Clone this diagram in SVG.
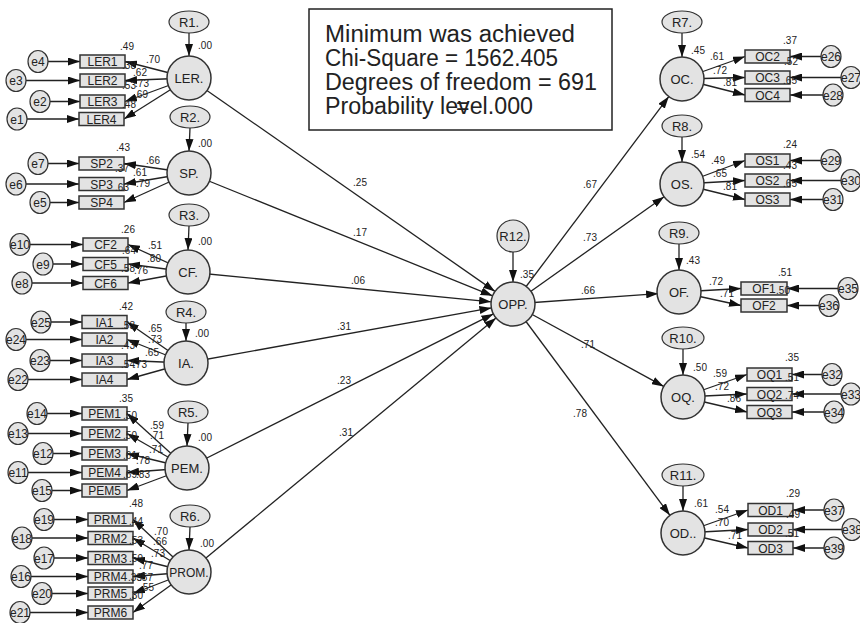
<svg xmlns="http://www.w3.org/2000/svg" width="860" height="623" viewBox="0 0 860 623">
<defs>
<marker id="ah" markerUnits="userSpaceOnUse" markerWidth="12" markerHeight="8" refX="12" refY="4" orient="auto"><path d="M0,0 L12,4 L0,8 z" fill="#111"/></marker>
</defs>
<style>
.c line{stroke:#222;stroke-width:1.3;marker-end:url(#ah)}
.lat{fill:#e3e3e3;stroke:#333;stroke-width:1.5}
.box{fill:#e3e3e3;stroke:#333;stroke-width:1.5}
.err{fill:#e3e3e3;stroke:#333;stroke-width:1.2}
text{font-family:"Liberation Sans",Arial,sans-serif;fill:#222}
.lt{font-size:13px;text-anchor:middle}
.bt{font-size:12px;text-anchor:middle}
.et{font-size:12px;text-anchor:middle}
.n{font-size:10px;text-anchor:middle}
.info{font-size:23px}
</style>
<rect x="309" y="9" width="303" height="121" fill="#fff" stroke="#222" stroke-width="1.5"/>
<g id="info">
<text class="info" x="325" y="42" textLength="250" lengthAdjust="spacingAndGlyphs">Minimum was achieved</text>
<text class="info" x="325" y="66" textLength="233" lengthAdjust="spacingAndGlyphs">Chi-Square = 1562.405</text>
<text class="info" x="325" y="90" textLength="272" lengthAdjust="spacingAndGlyphs">Degrees of freedom = 691</text>
<text class="info" x="325" y="114" textLength="208" lengthAdjust="spacingAndGlyphs">Probability level.000</text>
<text class="info" x="456" y="114">=</text>
</g>
<g class="c" id="connectors">
<!-- R to latent -->
<line x1="189" y1="33" x2="189" y2="56"/>
<line x1="190" y1="128" x2="189" y2="151"/>
<line x1="189" y1="226" x2="188" y2="250"/>
<line x1="186" y1="323" x2="186" y2="341"/>
<line x1="188" y1="423" x2="187" y2="446"/>
<line x1="190" y1="527" x2="189" y2="550"/>
<line x1="682" y1="33" x2="682" y2="57"/>
<line x1="682" y1="137" x2="682" y2="162"/>
<line x1="679" y1="244" x2="679" y2="270"/>
<line x1="683" y1="349" x2="683" y2="375"/>
<line x1="683" y1="486" x2="683" y2="511"/>
<line x1="513" y1="252" x2="513" y2="282"/>
<!-- latent to OPP -->
<line x1="189" y1="78" x2="495" y2="291.4"/>
<line x1="189" y1="173" x2="492.6" y2="295.8"/>
<line x1="188" y1="272" x2="491.1" y2="301.8"/>
<line x1="186" y1="363" x2="491.4" y2="307.9"/>
<line x1="187" y1="468" x2="493.4" y2="313.9"/>
<line x1="189" y1="572" x2="496" y2="318"/>
<!-- OPP to right latents -->
<line x1="513" y1="304" x2="668.8" y2="96.6"/>
<line x1="513" y1="304" x2="664.1" y2="196.7"/>
<line x1="513" y1="304" x2="658.1" y2="293.6"/>
<line x1="513" y1="304" x2="663.7" y2="386.4"/>
<line x1="513" y1="304" x2="669.9" y2="515.3"/>
<!-- left latent to indicators -->
<line x1="189" y1="78" x2="125" y2="61.5"/>
<line x1="189" y1="78" x2="125" y2="80.5"/>
<line x1="189" y1="78" x2="125" y2="101.5"/>
<line x1="189" y1="78" x2="124" y2="119"/>
<line x1="189" y1="173" x2="124" y2="163.5"/>
<line x1="189" y1="173" x2="124" y2="184"/>
<line x1="189" y1="173" x2="124" y2="202.5"/>
<line x1="188" y1="272" x2="128" y2="244.5"/>
<line x1="188" y1="272" x2="128" y2="264"/>
<line x1="188" y1="272" x2="128" y2="283"/>
<line x1="186" y1="363" x2="127" y2="322"/>
<line x1="186" y1="363" x2="127" y2="339.5"/>
<line x1="186" y1="363" x2="127" y2="360.5"/>
<line x1="186" y1="363" x2="127" y2="379.5"/>
<line x1="187" y1="468" x2="127" y2="413.5"/>
<line x1="187" y1="468" x2="127" y2="433.5"/>
<line x1="187" y1="468" x2="127" y2="453.5"/>
<line x1="187" y1="468" x2="127" y2="472.5"/>
<line x1="187" y1="468" x2="127" y2="490.5"/>
<line x1="189" y1="572" x2="133" y2="519.5"/>
<line x1="189" y1="572" x2="133" y2="538"/>
<line x1="189" y1="572" x2="133" y2="558"/>
<line x1="189" y1="572" x2="133" y2="576.5"/>
<line x1="189" y1="572" x2="133" y2="593.5"/>
<line x1="189" y1="572" x2="133" y2="612.5"/>
<!-- right latent to indicators -->
<line x1="682" y1="79" x2="745" y2="56.5"/>
<line x1="682" y1="79" x2="745" y2="77.5"/>
<line x1="682" y1="79" x2="745" y2="95"/>
<line x1="682" y1="184" x2="745" y2="160.5"/>
<line x1="682" y1="184" x2="745" y2="180.5"/>
<line x1="682" y1="184" x2="745" y2="199.5"/>
<line x1="679" y1="292" x2="741" y2="288.5"/>
<line x1="679" y1="292" x2="741" y2="305.5"/>
<line x1="683" y1="397" x2="747" y2="374.5"/>
<line x1="683" y1="397" x2="747" y2="394"/>
<line x1="683" y1="397" x2="747" y2="412"/>
<line x1="683" y1="533" x2="748" y2="510"/>
<line x1="683" y1="533" x2="748" y2="529.5"/>
<line x1="683" y1="533" x2="748" y2="548"/>
<!-- left errors -->
<line x1="38" y1="61.5" x2="80" y2="61.5"/>
<line x1="16" y1="80.5" x2="80" y2="80.5"/>
<line x1="40" y1="101.5" x2="80" y2="101.5"/>
<line x1="17" y1="119" x2="79" y2="119"/>
<line x1="38" y1="163.5" x2="79" y2="163.5"/>
<line x1="16" y1="184" x2="79" y2="184"/>
<line x1="40" y1="202.5" x2="79" y2="202.5"/>
<line x1="20" y1="244.5" x2="83" y2="244.5"/>
<line x1="43" y1="264" x2="83" y2="264"/>
<line x1="22" y1="283" x2="83" y2="283"/>
<line x1="41" y1="322" x2="82" y2="322"/>
<line x1="16" y1="339.5" x2="82" y2="339.5"/>
<line x1="40" y1="360.5" x2="82" y2="360.5"/>
<line x1="18" y1="379.5" x2="82" y2="379.5"/>
<line x1="37" y1="413.5" x2="82" y2="413.5"/>
<line x1="18" y1="433.5" x2="82" y2="433.5"/>
<line x1="43" y1="453.5" x2="82" y2="453.5"/>
<line x1="18" y1="472.5" x2="82" y2="472.5"/>
<line x1="42" y1="490.5" x2="82" y2="490.5"/>
<line x1="44" y1="519.5" x2="88" y2="519.5"/>
<line x1="22" y1="538" x2="88" y2="538"/>
<line x1="44" y1="558" x2="88" y2="558"/>
<line x1="21" y1="576.5" x2="88" y2="576.5"/>
<line x1="42" y1="593.5" x2="88" y2="593.5"/>
<line x1="20" y1="612.5" x2="88" y2="612.5"/>
<!-- right errors -->
<line x1="831" y1="56.5" x2="790" y2="56.5"/>
<line x1="851" y1="77.5" x2="790" y2="77.5"/>
<line x1="833" y1="95" x2="790" y2="95"/>
<line x1="831" y1="160.5" x2="790" y2="160.5"/>
<line x1="851" y1="180.5" x2="790" y2="180.5"/>
<line x1="833" y1="199.5" x2="790" y2="199.5"/>
<line x1="848" y1="288.5" x2="787" y2="288.5"/>
<line x1="829" y1="305.5" x2="787" y2="305.5"/>
<line x1="832" y1="374.5" x2="792" y2="374.5"/>
<line x1="851" y1="394" x2="792" y2="394"/>
<line x1="834" y1="412" x2="792" y2="412"/>
<line x1="834" y1="510" x2="793" y2="510"/>
<line x1="852" y1="529.5" x2="793" y2="529.5"/>
<line x1="834" y1="548" x2="793" y2="548"/>
</g>
<!-- latent nodes -->
<g id="LER"><circle class="lat" cx="189" cy="78" r="22"/><text class="lt" x="189" y="83">LER.</text></g>
<g id="SP"><circle class="lat" cx="189" cy="173" r="22"/><text class="lt" x="189" y="178">SP.</text></g>
<g id="CF"><circle class="lat" cx="188" cy="272" r="22"/><text class="lt" x="188" y="277">CF.</text></g>
<g id="IA"><circle class="lat" cx="186" cy="363" r="22"/><text class="lt" x="186" y="368">IA.</text></g>
<g id="PEM"><circle class="lat" cx="187" cy="468" r="22"/><text class="lt" x="187" y="473">PEM.</text></g>
<g id="PROM"><circle class="lat" cx="189" cy="572" r="22"/><text class="lt" x="189" y="577" style="font-size:12px">PROM.</text></g>
<g id="OPP"><circle class="lat" cx="513" cy="304" r="22"/><text class="lt" x="513" y="309">OPP.</text></g>
<g id="OC"><circle class="lat" cx="682" cy="79" r="22"/><text class="lt" x="682" y="84">OC.</text></g>
<g id="OS"><circle class="lat" cx="682" cy="184" r="22"/><text class="lt" x="682" y="189">OS.</text></g>
<g id="OF"><circle class="lat" cx="679" cy="292" r="22"/><text class="lt" x="679" y="297">OF.</text></g>
<g id="OQ"><circle class="lat" cx="683" cy="397" r="22"/><text class="lt" x="683" y="402">OQ.</text></g>
<g id="OD"><circle class="lat" cx="683" cy="533" r="22"/><text class="lt" x="683" y="538">OD..</text></g>
<!-- residual nodes -->
<g id="R1"><ellipse class="err" cx="189" cy="22" rx="20" ry="11"/><text class="lt" x="189" y="27">R1.</text></g>
<g id="R2"><ellipse class="err" cx="190" cy="117" rx="20" ry="11"/><text class="lt" x="190" y="122">R2.</text></g>
<g id="R3"><ellipse class="err" cx="189" cy="215" rx="20" ry="11"/><text class="lt" x="189" y="220">R3.</text></g>
<g id="R4"><ellipse class="err" cx="186" cy="312" rx="20" ry="11"/><text class="lt" x="186" y="317">R4.</text></g>
<g id="R5"><ellipse class="err" cx="188" cy="412" rx="20" ry="11"/><text class="lt" x="188" y="417">R5.</text></g>
<g id="R6"><ellipse class="err" cx="190" cy="516" rx="20" ry="11"/><text class="lt" x="190" y="521">R6.</text></g>
<g id="R7"><ellipse class="err" cx="682" cy="22" rx="20" ry="11"/><text class="lt" x="682" y="27">R7.</text></g>
<g id="R8"><ellipse class="err" cx="682" cy="126" rx="20" ry="11"/><text class="lt" x="682" y="131">R8.</text></g>
<g id="R9"><ellipse class="err" cx="679" cy="233" rx="20" ry="11"/><text class="lt" x="679" y="238">R9.</text></g>
<g id="R10"><ellipse class="err" cx="683" cy="338" rx="21" ry="11"/><text class="lt" x="683" y="343">R10.</text></g>
<g id="R11"><ellipse class="err" cx="683" cy="475" rx="21" ry="11"/><text class="lt" x="683" y="480">R11.</text></g>
<g id="R12"><circle class="err" cx="513" cy="236" r="16"/><text class="lt" x="513" y="241">R12.</text></g>
<!-- indicator boxes left -->
<g id="LER1"><rect class="box" x="80" y="55" width="45" height="13"/><text class="bt" x="102.5" y="66">LER1</text></g>
<g id="LER2"><rect class="box" x="80" y="74" width="45" height="13"/><text class="bt" x="102.5" y="85">LER2</text></g>
<g id="LER3"><rect class="box" x="80" y="95" width="45" height="13"/><text class="bt" x="102.5" y="106">LER3</text></g>
<g id="LER4"><rect class="box" x="79" y="112.5" width="45" height="13"/><text class="bt" x="101.5" y="123.5">LER4</text></g>
<g id="SP2"><rect class="box" x="79" y="157" width="45" height="13"/><text class="bt" x="101.5" y="168">SP2</text></g>
<g id="SP3"><rect class="box" x="79" y="177.5" width="45" height="13"/><text class="bt" x="101.5" y="188.5">SP3</text></g>
<g id="SP4"><rect class="box" x="79" y="196" width="45" height="13"/><text class="bt" x="101.5" y="207">SP4</text></g>
<g id="CF2"><rect class="box" x="83" y="238" width="45" height="13"/><text class="bt" x="105.5" y="249">CF2</text></g>
<g id="CF5"><rect class="box" x="83" y="257.5" width="45" height="13"/><text class="bt" x="105.5" y="268.5">CF5</text></g>
<g id="CF6"><rect class="box" x="83" y="276.5" width="45" height="13"/><text class="bt" x="105.5" y="287.5">CF6</text></g>
<g id="IA1"><rect class="box" x="82" y="315.5" width="45" height="13"/><text class="bt" x="104.5" y="326.5">IA1</text></g>
<g id="IA2"><rect class="box" x="82" y="333" width="45" height="13"/><text class="bt" x="104.5" y="344">IA2</text></g>
<g id="IA3"><rect class="box" x="82" y="354" width="45" height="13"/><text class="bt" x="104.5" y="365">IA3</text></g>
<g id="IA4"><rect class="box" x="82" y="373" width="45" height="13"/><text class="bt" x="104.5" y="384">IA4</text></g>
<g id="PEM1"><rect class="box" x="82" y="407" width="45" height="13"/><text class="bt" x="104.5" y="418">PEM1</text></g>
<g id="PEM2"><rect class="box" x="82" y="427" width="45" height="13"/><text class="bt" x="104.5" y="438">PEM2</text></g>
<g id="PEM3"><rect class="box" x="82" y="447" width="45" height="13"/><text class="bt" x="104.5" y="458">PEM3</text></g>
<g id="PEM4"><rect class="box" x="82" y="466" width="45" height="13"/><text class="bt" x="104.5" y="477">PEM4</text></g>
<g id="PEM5"><rect class="box" x="82" y="484" width="45" height="13"/><text class="bt" x="104.5" y="495">PEM5</text></g>
<g id="PRM1"><rect class="box" x="88" y="513" width="45" height="13"/><text class="bt" x="110.5" y="524">PRM1</text></g>
<g id="PRM2"><rect class="box" x="88" y="531.5" width="45" height="13"/><text class="bt" x="110.5" y="542.5">PRM2</text></g>
<g id="PRM3"><rect class="box" x="88" y="551.5" width="45" height="13"/><text class="bt" x="110.5" y="562.5">PRM3</text></g>
<g id="PRM4"><rect class="box" x="88" y="570" width="45" height="13"/><text class="bt" x="110.5" y="581">PRM4</text></g>
<g id="PRM5"><rect class="box" x="88" y="587" width="45" height="13"/><text class="bt" x="110.5" y="598">PRM5</text></g>
<g id="PRM6"><rect class="box" x="88" y="606" width="45" height="13"/><text class="bt" x="110.5" y="617">PRM6</text></g>
<!-- indicator boxes right -->
<g id="OC2"><rect class="box" x="745" y="50" width="45" height="13"/><text class="bt" x="767.5" y="61">OC2</text></g>
<g id="OC3"><rect class="box" x="745" y="71" width="45" height="13"/><text class="bt" x="767.5" y="82">OC3</text></g>
<g id="OC4"><rect class="box" x="745" y="88.5" width="45" height="13"/><text class="bt" x="767.5" y="99.5">OC4</text></g>
<g id="OS1"><rect class="box" x="745" y="154" width="45" height="13"/><text class="bt" x="767.5" y="165">OS1</text></g>
<g id="OS2"><rect class="box" x="745" y="174" width="45" height="13"/><text class="bt" x="767.5" y="185">OS2</text></g>
<g id="OS3"><rect class="box" x="745" y="193" width="45" height="13"/><text class="bt" x="767.5" y="204">OS3</text></g>
<g id="OF1"><rect class="box" x="741" y="282" width="46" height="13"/><text class="bt" x="764" y="293">OF1</text></g>
<g id="OF2"><rect class="box" x="741" y="299" width="46" height="13"/><text class="bt" x="764" y="310">OF2</text></g>
<g id="OQ1"><rect class="box" x="747" y="368" width="45" height="13"/><text class="bt" x="769.5" y="379">OQ1</text></g>
<g id="OQ2"><rect class="box" x="747" y="387.5" width="45" height="13"/><text class="bt" x="769.5" y="398.5">OQ2</text></g>
<g id="OQ3"><rect class="box" x="747" y="405.5" width="45" height="13"/><text class="bt" x="769.5" y="416.5">OQ3</text></g>
<g id="OD1"><rect class="box" x="748" y="503.5" width="45" height="13"/><text class="bt" x="770.5" y="514.5">OD1</text></g>
<g id="OD2"><rect class="box" x="748" y="523" width="45" height="13"/><text class="bt" x="770.5" y="534">OD2</text></g>
<g id="OD3"><rect class="box" x="748" y="541.5" width="45" height="13"/><text class="bt" x="770.5" y="552.5">OD3</text></g>
<!-- error nodes left -->
<g id="e4"><ellipse class="err" cx="38" cy="61.5" rx="10" ry="11"/><text class="et" x="38" y="66">e4</text></g>
<g id="e3"><ellipse class="err" cx="16" cy="80.5" rx="10" ry="11"/><text class="et" x="16" y="85">e3</text></g>
<g id="e2"><ellipse class="err" cx="40" cy="101.5" rx="10" ry="11"/><text class="et" x="40" y="106">e2</text></g>
<g id="e1"><ellipse class="err" cx="17" cy="119" rx="10" ry="11"/><text class="et" x="17" y="123.5">e1</text></g>
<g id="e7"><ellipse class="err" cx="38" cy="163.5" rx="10" ry="11"/><text class="et" x="38" y="168">e7</text></g>
<g id="e6"><ellipse class="err" cx="16" cy="184" rx="10" ry="11"/><text class="et" x="16" y="188.5">e6</text></g>
<g id="e5"><ellipse class="err" cx="40" cy="202.5" rx="10" ry="11"/><text class="et" x="40" y="207">e5</text></g>
<g id="e10"><ellipse class="err" cx="20" cy="244.5" rx="10" ry="11"/><text class="et" x="20" y="249">e10</text></g>
<g id="e9"><ellipse class="err" cx="43" cy="264" rx="10" ry="11"/><text class="et" x="43" y="268.5">e9</text></g>
<g id="e8"><ellipse class="err" cx="22" cy="283" rx="10" ry="11"/><text class="et" x="22" y="287.5">e8</text></g>
<g id="e25"><ellipse class="err" cx="41" cy="322" rx="10" ry="11"/><text class="et" x="41" y="326.5">e25</text></g>
<g id="e24"><ellipse class="err" cx="16" cy="339.5" rx="10" ry="11"/><text class="et" x="16" y="344">e24</text></g>
<g id="e23"><ellipse class="err" cx="40" cy="360.5" rx="10" ry="11"/><text class="et" x="40" y="365">e23</text></g>
<g id="e22"><ellipse class="err" cx="18" cy="379.5" rx="10" ry="11"/><text class="et" x="18" y="384">e22</text></g>
<g id="e14"><ellipse class="err" cx="37" cy="413.5" rx="10" ry="11"/><text class="et" x="37" y="418">e14</text></g>
<g id="e13"><ellipse class="err" cx="18" cy="433.5" rx="10" ry="11"/><text class="et" x="18" y="438">e13</text></g>
<g id="e12"><ellipse class="err" cx="43" cy="453.5" rx="10" ry="11"/><text class="et" x="43" y="458">e12</text></g>
<g id="e11"><ellipse class="err" cx="18" cy="472.5" rx="10" ry="11"/><text class="et" x="18" y="477">e11</text></g>
<g id="e15"><ellipse class="err" cx="42" cy="490.5" rx="10" ry="11"/><text class="et" x="42" y="495">e15</text></g>
<g id="e19"><ellipse class="err" cx="44" cy="519.5" rx="10" ry="11"/><text class="et" x="44" y="524">e19</text></g>
<g id="e18"><ellipse class="err" cx="22" cy="538" rx="10" ry="11"/><text class="et" x="22" y="542.5">e18</text></g>
<g id="e17"><ellipse class="err" cx="44" cy="558" rx="10" ry="11"/><text class="et" x="44" y="562.5">e17</text></g>
<g id="e16"><ellipse class="err" cx="21" cy="576.5" rx="10" ry="11"/><text class="et" x="21" y="581">e16</text></g>
<g id="e20"><ellipse class="err" cx="42" cy="593.5" rx="10" ry="11"/><text class="et" x="42" y="598">e20</text></g>
<g id="e21"><ellipse class="err" cx="20" cy="612.5" rx="10" ry="11"/><text class="et" x="20" y="617">e21</text></g>
<!-- error nodes right -->
<g id="e26"><ellipse class="err" cx="831" cy="56.5" rx="10" ry="11"/><text class="et" x="831" y="61">e26</text></g>
<g id="e27"><ellipse class="err" cx="851" cy="77.5" rx="10" ry="11"/><text class="et" x="851" y="82">e27</text></g>
<g id="e28"><ellipse class="err" cx="833" cy="95" rx="10" ry="11"/><text class="et" x="833" y="99.5">e28</text></g>
<g id="e29"><ellipse class="err" cx="831" cy="160.5" rx="10" ry="11"/><text class="et" x="831" y="165">e29</text></g>
<g id="e30"><ellipse class="err" cx="851" cy="180.5" rx="10" ry="11"/><text class="et" x="851" y="185">e30</text></g>
<g id="e31"><ellipse class="err" cx="833" cy="199.5" rx="10" ry="11"/><text class="et" x="833" y="204">e31</text></g>
<g id="e35"><ellipse class="err" cx="848" cy="288.5" rx="10" ry="11"/><text class="et" x="848" y="293">e35</text></g>
<g id="e36"><ellipse class="err" cx="829" cy="305.5" rx="10" ry="11"/><text class="et" x="829" y="310">e36</text></g>
<g id="e32"><ellipse class="err" cx="832" cy="374.5" rx="10" ry="11"/><text class="et" x="832" y="379">e32</text></g>
<g id="e33"><ellipse class="err" cx="851" cy="394" rx="10" ry="11"/><text class="et" x="851" y="398.5">e33</text></g>
<g id="e34"><ellipse class="err" cx="834" cy="412" rx="10" ry="11"/><text class="et" x="834" y="416.5">e34</text></g>
<g id="e37"><ellipse class="err" cx="834" cy="510" rx="10" ry="11"/><text class="et" x="834" y="514.5">e37</text></g>
<g id="e38"><ellipse class="err" cx="852" cy="529.5" rx="10" ry="11"/><text class="et" x="852" y="534">e38</text></g>
<g id="e39"><ellipse class="err" cx="834" cy="548" rx="10" ry="11"/><text class="et" x="834" y="552.5">e39</text></g>
<!-- numeric labels -->
<g id="labels">
<text class="n" x="205" y="49">.00</text><text class="n" x="127" y="50">.49</text><text class="n" x="153" y="63">.70</text><text class="n" x="129" y="69">.38</text><text class="n" x="140" y="76">.62</text><text class="n" x="129" y="89">.53</text><text class="n" x="142" y="87">.73</text><text class="n" x="141" y="98">.69</text><text class="n" x="129" y="108">.48</text>
<text class="n" x="205" y="147">.00</text><text class="n" x="123" y="151">.43</text><text class="n" x="153" y="164">.66</text><text class="n" x="122" y="172">.37</text><text class="n" x="140" y="176">.61</text><text class="n" x="122" y="191">.63</text><text class="n" x="143" y="187">.79</text>
<text class="n" x="205" y="245">.00</text><text class="n" x="128" y="233">.26</text><text class="n" x="155" y="249">.51</text><text class="n" x="129" y="254">.64</text><text class="n" x="154" y="262">.80</text><text class="n" x="128" y="272">.58</text><text class="n" x="141" y="274">.76</text>
<text class="n" x="202" y="337">.00</text><text class="n" x="126" y="310">.42</text><text class="n" x="155" y="332">.65</text><text class="n" x="128" y="329">.53</text><text class="n" x="155" y="343">.73</text><text class="n" x="128" y="349">.43</text><text class="n" x="152" y="356">.65</text><text class="n" x="128" y="368">.54</text><text class="n" x="140" y="368">.73</text>
<text class="n" x="205" y="441">.00</text><text class="n" x="126" y="402">.35</text><text class="n" x="157" y="429">.59</text><text class="n" x="130" y="419">.50</text><text class="n" x="157" y="439">.71</text><text class="n" x="130" y="439">.50</text><text class="n" x="156" y="453">.71</text><text class="n" x="130" y="459">.61</text><text class="n" x="143" y="464">.78</text><text class="n" x="130" y="478">.69</text><text class="n" x="143" y="478">.83</text>
<text class="n" x="207" y="547">.00</text><text class="n" x="136" y="507">.48</text><text class="n" x="161" y="535">.70</text><text class="n" x="160" y="545">.66</text><text class="n" x="136" y="525">.44</text><text class="n" x="158" y="557">.73</text><text class="n" x="136" y="544">.53</text><text class="n" x="146" y="569">.77</text><text class="n" x="136" y="562">.59</text><text class="n" x="135" y="581">.33</text><text class="n" x="146" y="581">.57</text><text class="n" x="147" y="591">.55</text><text class="n" x="136" y="599">.30</text>
<text class="n" x="527" y="278">.35</text>
<text class="n" x="360" y="186">.25</text><text class="n" x="360" y="236">.17</text><text class="n" x="358" y="284">.06</text><text class="n" x="344" y="330">.31</text><text class="n" x="344" y="384">.23</text><text class="n" x="346" y="436">.31</text>
<text class="n" x="590" y="188">.67</text><text class="n" x="590" y="241">.73</text><text class="n" x="588" y="294">.66</text><text class="n" x="588" y="348">.71</text><text class="n" x="580" y="417">.78</text>
<text class="n" x="698" y="54">.45</text><text class="n" x="717" y="60">.61</text><text class="n" x="720" y="74">.72</text><text class="n" x="730" y="86">.81</text><text class="n" x="790" y="44">.37</text><text class="n" x="791" y="65">.52</text><text class="n" x="790" y="84">.65</text>
<text class="n" x="698" y="158">.54</text><text class="n" x="718" y="164">.49</text><text class="n" x="720" y="177">.65</text><text class="n" x="730" y="190">.81</text><text class="n" x="790" y="148">.24</text><text class="n" x="790" y="169">.43</text><text class="n" x="790" y="187">.65</text>
<text class="n" x="693" y="264">.43</text><text class="n" x="716" y="285">.72</text><text class="n" x="727" y="297">.71</text><text class="n" x="785" y="276">.51</text><text class="n" x="783" y="294">.50</text>
<text class="n" x="700" y="371">.50</text><text class="n" x="720" y="377">.59</text><text class="n" x="722" y="390">.72</text><text class="n" x="734" y="402">.86</text><text class="n" x="792" y="361">.35</text><text class="n" x="792" y="381">.51</text><text class="n" x="792" y="399">.74</text>
<text class="n" x="701" y="507">.61</text><text class="n" x="722" y="513">.54</text><text class="n" x="722" y="526">.70</text><text class="n" x="735" y="539">.71</text><text class="n" x="793" y="497">.29</text><text class="n" x="793" y="518">.49</text><text class="n" x="792" y="537">.51</text>
</g>
</svg>
